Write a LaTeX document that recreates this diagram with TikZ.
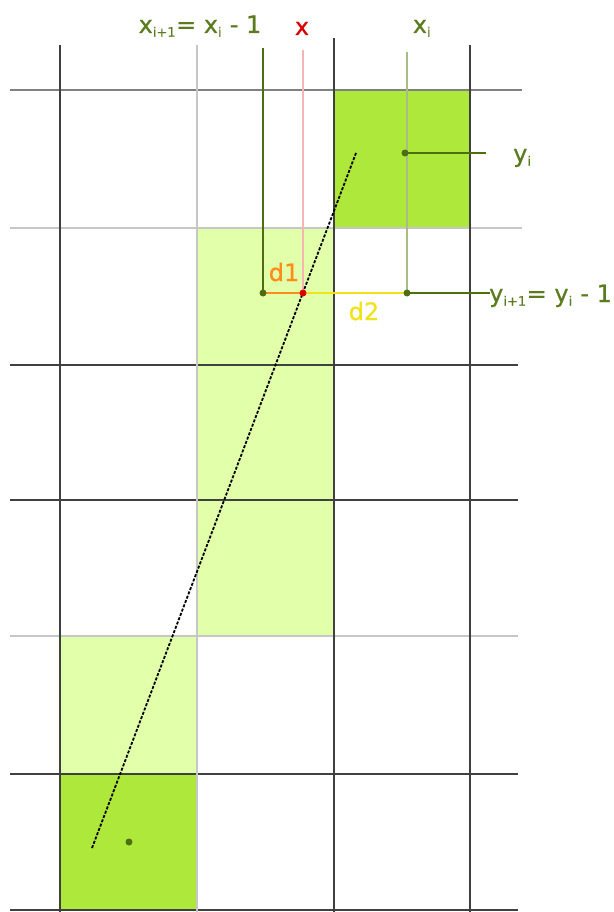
\documentclass[tikz,border=0pt]{standalone}
\usepackage{fontspec}
\setmainfont{DejaVu Sans}
\newfontfamily\lblfont{DejaVu Sans}[FakeBold=0.6]
\begin{document}
\begin{tikzpicture}[x=1pt,y=-1pt,
  gridblack/.style={draw=black!75,line width=1.5pt},
  gridgray/.style={draw=black!22,line width=1.5pt},
  gridmid/.style={draw=black!50,line width=1.5pt},
  darkcell/.style={fill=darkfill,draw=none},
  lightcell/.style={fill=lightfill,draw=none},
  guide/.style={line width=2pt},
  lbl/.style={font=\lblfont\fontsize{24}{28}\selectfont,text=lblgreen,inner sep=0pt},
  pt/.style={circle,fill=#1,inner sep=0pt,minimum size=7pt}]
\definecolor{darkfill}{HTML}{AEE83A}
\definecolor{lightfill}{HTML}{E2FFAA}
\definecolor{lblgreen}{HTML}{5B7B1F}
\definecolor{dkgreen}{HTML}{4E6E10}
\definecolor{ltolive}{HTML}{A8BC84}
\definecolor{pinkline}{HTML}{F6B4B4}
\definecolor{orangeline}{HTML}{FF8C1A}
\definecolor{yellowline}{HTML}{F2E21A}
\newcommand{\sbs}[1]{$_{\mbox{\fontsize{13}{13}\selectfont #1}}$}
\useasboundingbox (0,0) rectangle (613,912);
% cells
\fill[darkcell] (334,90) rectangle (470,228);
\fill[darkcell] (60,774) rectangle (197,910);
\fill[lightcell] (197,228) rectangle (334,636);
\fill[lightcell] (60,636) rectangle (197,774);
% horizontal grid lines
\draw[gridmid] (10,90) -- (522,90);
\draw[gridgray] (10,228) -- (522,228);
\draw[gridblack] (10,365) -- (518,365);
\draw[gridblack] (10,500) -- (518,500);
\draw[gridgray] (10,636) -- (518,636);
\draw[gridblack] (10,774) -- (518,774);
\draw[gridblack] (10,910) -- (518,910);
% vertical grid lines
\draw[gridblack] (60,45) -- (60,912);
\draw[gridgray] (197,45) -- (197,912);
\draw[gridblack] (334,38) -- (334,912);
\draw[gridblack] (470,45) -- (470,912);
% named points
\coordinate (pa) at (263,293);
\coordinate (px) at (303,293);
\coordinate (pb) at (407,293);
\coordinate (pyi) at (405,153);
\coordinate (pc) at (129,842);
\coordinate (ta) at (263,48);
\coordinate (tx) at (303,50);
\coordinate (tb) at (407,52);
% guide lines
\draw[guide,dkgreen] (ta) -- (pa);
\draw[line width=1.3pt,pinkline] (tx) -- (px);
\draw[line width=1.5pt,ltolive] (tb) -- (pb);
\draw[guide,orangeline] (pa) -- (px);
\draw[guide,yellowline] (px) -- (pb);
% dashed line
\coordinate (s) at (92,848);
\coordinate (e) at (356,153);
\draw[black,line width=1.8pt,dash pattern=on 3pt off 1.6pt] (s) -- (e);
% labels
\node[lbl,anchor=base west] (yi1) at (489,302) {y\sbs{i+1}= y\sbs{i} - 1};
\coordinate (yi1w) at (490,293);
\draw[guide,dkgreen] (pb) -- (yi1w);
\node[lbl,anchor=base west] (yi) at (513,162) {y\sbs{i}};
\coordinate (yie) at (486,153);
\draw[guide,dkgreen] (pyi) -- (yie);
\node[lbl,anchor=base] (xi1) at (200,33) {x\sbs{i+1}= x\sbs{i} - 1};
\node[lbl,anchor=base,text=red!85!black] (xx) at (302,35) {x};
\node[lbl,anchor=base] (xi) at (422,33) {x\sbs{i}};
\node[lbl,anchor=base,text=orangeline] (d1) at (284,281) {d1};
\node[lbl,anchor=base,text=yellowline] (d2) at (364,320) {d2};
% dots
\node[pt=dkgreen] (da) at (pa) {};
\node[pt=red!85!black] (dx) at (px) {};
\node[pt=dkgreen] (db) at (pb) {};
\node[pt=dkgreen] (dyi) at (pyi) {};
\node[pt=dkgreen] (dc) at (pc) {};
\end{tikzpicture}
\end{document}
